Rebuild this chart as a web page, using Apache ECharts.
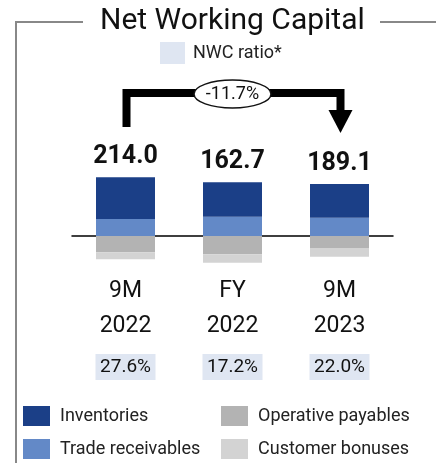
<!DOCTYPE html>
<html>
<head>
<meta charset="utf-8">
<script src="https://cdn.jsdelivr.net/npm/echarts@6/dist/echarts.min.js"></script>
<style>
  html, body { margin: 0; padding: 0; background: #fff; }
  #main { width: 436px; height: 463px; }
</style>
</head>
<body>
<div id="main"></div>
<script>
// periods on the x axis
const periods = ['9M', 'FY', '9M'];
const years = ['2022', '2022', '2023'];
const ratios = ['27.6%', '17.2%', '22.0%'];
const totals = ['214.0', '162.7', '189.1'];
const changeLabel = '-11.7%';

// components (EUR m)
const inventories = [250, 207, 202];
const receivables = [102, 116, 110];
const payables = [-98, -110, -72];
const bonuses = [-42, -50, -52];

const FONT = 'Roboto';
const chart = echarts.init(document.getElementById('main'));

function legendItem(name, left, top, w, h, pad) {
    return {
        data: [name],
        left: left, top: top, padding: 0,
        itemWidth: w, itemHeight: h,
        icon: 'rect',
        textStyle: { fontFamily: FONT, fontSize: 18, color: '#222', padding: [0, 0, 0, pad] },
        selectedMode: false
    };
}

const option = {
    animation: false,
    title: {
        text: 'Net Working Capital',
        left: 100,
        top: 6,
        padding: 0,
        textStyle: { fontFamily: FONT, fontSize: 30, fontWeight: 'normal', color: '#111' }
    },
    legend: [
        legendItem('NWC ratio*', 160, 42, 25, 22, 3),
        legendItem('Inventories', 23, 406, 27, 20, 5),
        legendItem('Trade receivables', 23, 439, 27, 20, 5),
        legendItem('Operative payables', 221, 406, 27, 20, 5),
        legendItem('Customer bonuses', 221, 439, 27, 20, 5)
    ],
    grid: { left: 72, right: 43, top: 136, bottom: 177 },
    xAxis: {
        type: 'category',
        data: periods.map((p, i) => p + ' ' + years[i]),
        axisLine: { onZero: true, lineStyle: { color: '#000', width: 1.5 } },
        axisTick: { show: false },
        axisLabel: {
            margin: -12,
            interval: 0,
            verticalAlign: 'top',
            formatter: function (v, i) {
                return '{a|' + periods[i] + '}\n{a|' + years[i] + '}\n{r|' + ratios[i] + '}';
            },
            rich: {
                a: { fontFamily: FONT, fontSize: 23, color: '#111', lineHeight: 35, align: 'center' },
                r: {
                    fontFamily: FONT, fontSize: 19, color: '#111', lineHeight: 46,
                    width: 60, height: 26, align: 'center',
                    backgroundColor: '#dfe6f2'
                }
            }
        }
    },
    yAxis: {
        type: 'value',
        show: false,
        min: -300,
        max: 600,
        splitLine: { show: false }
    },
    series: [
        {
            name: 'Trade receivables', type: 'bar', stack: 'nwc', barWidth: 59,
            itemStyle: { color: '#6389c7' },
            data: receivables
        },
        {
            name: 'Inventories', type: 'bar', stack: 'nwc', barWidth: 59,
            itemStyle: { color: '#1b3f87' },
            label: {
                show: true, position: 'top', distance: 8,
                fontFamily: FONT, fontSize: 25, fontWeight: 'bold', color: '#111',
                formatter: p => totals[p.dataIndex]
            },
            data: inventories
        },
        {
            name: 'Operative payables', type: 'bar', stack: 'nwc', barWidth: 59,
            itemStyle: { color: '#b3b3b3' },
            data: payables
        },
        {
            name: 'Customer bonuses', type: 'bar', stack: 'nwc', barWidth: 59,
            itemStyle: { color: '#d3d3d3' },
            data: bonuses
        },
        {
            name: 'NWC ratio*', type: 'line', data: [],
            itemStyle: { color: '#dfe6f2' }, lineStyle: { color: '#dfe6f2' }
        }
    ]
};
chart.setOption(option);

// frame and change bracket
const x1 = chart.convertToPixel({ xAxisIndex: 0 }, 0) + 1;
const x3 = chart.convertToPixel({ xAxisIndex: 0 }, 2) + 1;
const xm = (x1 + x3) / 2 - 1;
chart.setOption({
    graphic: [
        { type: 'polyline', shape: { points: [[83, 22], [16, 22], [16, 463]] },
          style: { stroke: '#888', lineWidth: 2, fill: null } },
        { type: 'line', shape: { x1: 380, y1: 22, x2: 436, y2: 22 },
          style: { stroke: '#888', lineWidth: 2 } },
        { type: 'polyline', shape: { points: [[x1, 127], [x1, 93], [x3, 93], [x3, 112]] },
          style: { stroke: '#000', lineWidth: 8, fill: null, lineJoin: 'miter', lineCap: 'butt' } },
        { type: 'polygon', shape: { points: [[x3 - 12, 110], [x3 + 12, 110], [x3, 133]] },
          style: { fill: '#000' } },
        { type: 'ellipse', shape: { cx: xm, cy: 94, rx: 38.5, ry: 14 },
          style: { fill: '#fff', stroke: '#111', lineWidth: 1.5 } },
        { type: 'text', x: xm, y: 94,
          style: { text: changeLabel, fontFamily: FONT, fontSize: 18, fill: '#111',
                   align: 'center', verticalAlign: 'middle' } }
    ]
});
</script>
</body>
</html>
